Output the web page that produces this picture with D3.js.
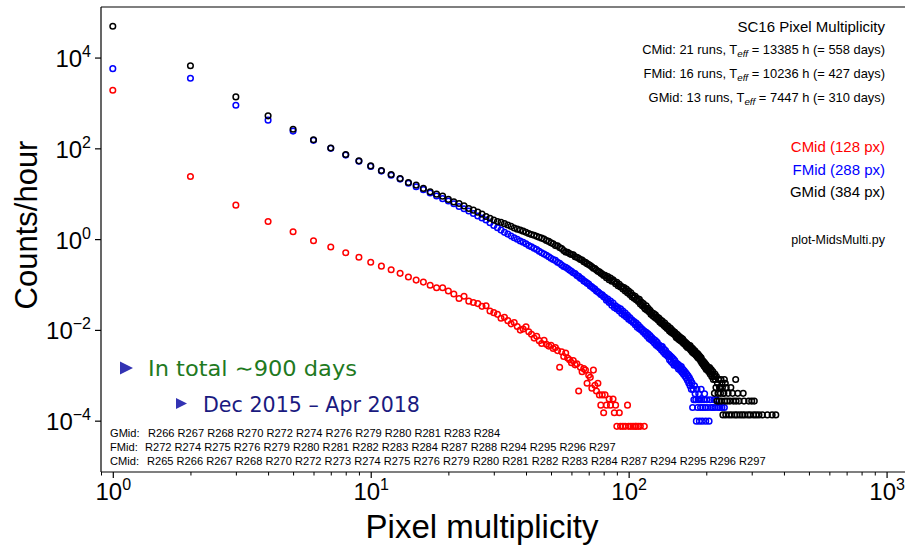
<!DOCTYPE html>
<html>
<head>
<meta charset="utf-8">
<title>SC16 Pixel Multiplicity</title>
<script src="https://d3js.org/d3.v7.min.js"></script>
<style>
    body { margin: 0; background: #fff; }
    text { font-family: "Liberation Sans", Arial, sans-serif; }
    .beamer { font-family: "DejaVu Sans", sans-serif; }
</style>
</head>
<body>
<svg id="plot" width="905" height="545"></svg>
<script>
// ---- data: counts/hour per pixel multiplicity (dense part starts at multiplicity 1) ----
const cmidRate = [1900, 24, 5.6, 2.45, 1.45, 0.92, 0.67, 0.50, 0.40, 0.31,
    0.254, 0.211, 0.176, 0.146, 0.125, 0.113, 0.096, 0.085, 0.085, 0.072,
    0.062, 0.049, 0.055, 0.043, 0.040, 0.038, 0.033, 0.034, 0.026, 0.024,
    0.022, 0.018, 0.019, 0.016, 0.0136, 0.0146, 0.0119, 0.0099, 0.0105, 0.0117,
    0.0091, 0.0080, 0.0066, 0.0072, 0.0058, 0.0050, 0.0059, 0.0048, 0.0044, 0.0046,
    0.0039, 0.0041, 0.0035, 0.0015, 0.0033, 0.0026, 0.0031, 0.0024, 0.0022, 0.0019,
    0.0021, 0.0017, 0.0018, 0.00045, 0.0015, 0.0012, 0.0014, 0.0013, 0.00067, 0.0010,
    0.00090, 0.00052, 0.0013, 0.00060, 0.00045, 0.00067, 0.00037, 0.00022, 0.00037, 0.00015,
    0.00037, 0.00022];
const cmidTailMult = [84, 85, 87, 88, 89, 90, 92, 93, 95, 97, 99, 100, 102, 104, 106, 107, 109, 111, 115];
const cmidTailRate = [0.00030, 0.00022, 0.00030, 0.00015, 0.00022, 0.000075, 0.00015, 0.000075, 0.000075, 0.000075,
    0.00022, 0.000075, 0.000075, 0.000075, 0.000075, 0.000075, 0.000075, 0.000075, 0.000075];

const fmidRate = [5700, 3500, 890, 418, 240, 150, 100, 71, 52, 40,
    31.5, 25.5, 21, 17, 14.2, 12.3, 10.4, 8.9, 7.8, 6.9,
    6.0, 5.25, 4.68, 4.17, 3.67, 3.24, 2.92, 2.63, 2.29, 2.0,
    1.78, 1.58, 1.41, 1.29, 1.17, 1.07, 0.99, 0.91, 0.85, 0.79,
    0.72, 0.68, 0.63, 0.59, 0.54, 0.50, 0.47, 0.44, 0.41, 0.38,
    0.355, 0.34, 0.31, 0.295, 0.27, 0.25, 0.24, 0.224, 0.209, 0.195,
    0.182, 0.174, 0.158, 0.151, 0.138, 0.132, 0.120, 0.115, 0.107, 0.102,
    0.093, 0.089, 0.083, 0.079, 0.072, 0.069, 0.065, 0.060, 0.059, 0.054,
    0.052, 0.045, 0.048, 0.040, 0.043, 0.035, 0.039, 0.031, 0.034, 0.029,
    0.031, 0.026, 0.029, 0.023, 0.026, 0.021, 0.0235, 0.0192, 0.021, 0.0172,
    0.0186, 0.0160, 0.0167, 0.0146, 0.0152, 0.0130, 0.0141, 0.0114, 0.0128, 0.0106,
    0.0114, 0.0098, 0.0103, 0.0089, 0.0094, 0.0080, 0.0088, 0.0072, 0.0082, 0.0065,
    0.0075, 0.0061, 0.0068, 0.0056, 0.0062, 0.0051, 0.0058, 0.0046, 0.0053, 0.0043,
    0.0047, 0.0040, 0.0044, 0.0036, 0.0043, 0.0033, 0.0038, 0.0030, 0.0035, 0.0028,
    0.0031, 0.0026, 0.0029, 0.0022, 0.0027, 0.0020, 0.0025, 0.00186, 0.0023, 0.00166,
    0.0021, 0.0017, 0.00186, 0.00156, 0.00176, 0.00137, 0.00166, 0.00147, 0.00127, 0.00156,
    0.00117, 0.00137, 0.00107, 0.00127, 0.00098, 0.00117, 0.00088, 0.00107, 0.00078, 0.00098,
    0.00068, 0.00088, 0.00059, 0.00078, 0.00049, 0.00068];
const fmidTailMult = [177, 178, 179, 180, 181, 182, 183, 184, 185, 186, 187, 188, 189, 190, 191, 192, 193, 194,
    196, 197, 198, 199, 201, 203, 205, 207, 209, 212, 214, 216, 219, 222, 226, 230, 235];
const fmidTailRate = [0.000195, 0.00049, 0.00029, 0.00059, 0.00039, 0.00029, 0.0000977, 0.00049, 0.000195, 0.00029,
    0.00039, 0.0000977, 0.00029, 0.000195, 0.00049, 0.00029, 0.0000977, 0.000195,
    0.00029, 0.00039, 0.000195, 0.0000977, 0.00029, 0.000195, 0.0000977, 0.00029, 0.000195, 0.000195, 0.00029, 0.000195,
    0.00029, 0.000195, 0.000195, 0.000195, 0.000195];

const gmidRate = [49000, 6600, 1360, 520, 263, 155, 102, 73, 53, 41,
    32.4, 26.6, 21.7, 17.7, 15.5, 13.1, 11.0, 9.8, 8.85, 7.5,
    6.6, 6.1, 5.4, 4.74, 4.35, 3.93, 3.56, 3.16, 2.88, 2.63,
    2.45, 2.34, 2.19, 2.04, 1.91, 1.76, 1.66, 1.58, 1.50, 1.41,
    1.33, 1.26, 1.22, 1.15, 1.10, 1.05, 1.00, 0.93, 0.89, 0.83,
    0.79, 0.72, 0.71, 0.65, 0.62, 0.56, 0.52, 0.51, 0.48, 0.46,
    0.45, 0.41, 0.40, 0.38, 0.355, 0.347, 0.316, 0.309, 0.288, 0.275,
    0.263, 0.245, 0.229, 0.224, 0.209, 0.195, 0.19, 0.178, 0.17, 0.158,
    0.160, 0.141, 0.150, 0.128, 0.139, 0.118, 0.127, 0.116, 0.104, 0.112,
    0.094, 0.101, 0.088, 0.090, 0.080, 0.086, 0.072, 0.079, 0.066, 0.072,
    0.060, 0.066, 0.054, 0.058, 0.050, 0.055, 0.046, 0.049, 0.042, 0.047,
    0.037, 0.041, 0.034, 0.038, 0.031, 0.029, 0.034, 0.027, 0.030, 0.025,
    0.027, 0.022, 0.024, 0.0205, 0.023, 0.019, 0.0215, 0.0178, 0.0192, 0.0165,
    0.0182, 0.0150, 0.0164, 0.0138, 0.0156, 0.0133, 0.0125, 0.0142, 0.0116, 0.0127,
    0.0108, 0.0121, 0.0102, 0.0095, 0.0110, 0.0089, 0.0100, 0.0084, 0.0093, 0.0080,
    0.0088, 0.0074, 0.0068, 0.0080, 0.0065, 0.0074, 0.0061, 0.0070, 0.0058, 0.0066,
    0.0055, 0.0063, 0.0051, 0.0057, 0.0048, 0.0053, 0.0044, 0.0050, 0.0041, 0.0047,
    0.0043, 0.0039, 0.0045, 0.0036, 0.0041, 0.0033, 0.0039, 0.0031, 0.0036, 0.0030,
    0.0034, 0.0028, 0.0031, 0.0026, 0.0030, 0.0024, 0.0028, 0.0023, 0.0026, 0.0021,
    0.00242, 0.00188, 0.00215, 0.00175, 0.00201, 0.00161, 0.00188, 0.00148, 0.00175, 0.00134,
    0.00161, 0.00134, 0.00148, 0.00121, 0.00134, 0.00148, 0.00107, 0.00121, 0.00134, 0.00094,
    0.00107, 0.00121, 0.00081, 0.00094];
const gmidTailMult = [215, 216, 217, 218, 219, 220, 221, 222, 223, 224, 225, 226, 227, 228, 229, 230, 231, 232, 233, 234,
    235, 236, 237, 238, 239, 241, 243, 245, 247, 249, 251, 253, 255, 258, 260, 261, 263, 265, 268, 270,
    276, 278, 280, 282, 290, 292, 296, 300, 305, 307, 312, 320, 330, 345, 360, 372];
const gmidTailRate = [0.00040, 0.00107, 0.00081, 0.00054, 0.00094, 0.00027, 0.00067, 0.00040, 0.00081, 0.00027,
    0.00054, 0.00054, 0.00040, 0.00081, 0.00027, 0.00067, 0.00054, 0.000134, 0.00040, 0.00040,
    0.00081, 0.00027, 0.00067, 0.000134, 0.00054, 0.00027, 0.00040, 0.000134, 0.00027, 0.00054,
    0.000134, 0.00040, 0.00027, 0.000134, 0.00081, 0.00027, 0.000134, 0.00040, 0.00027, 0.000134,
    0.000134, 0.00040, 0.00027, 0.000134, 0.000134, 0.00027, 0.000134, 0.00027, 0.000134, 0.00027,
    0.000134, 0.000134, 0.000134, 0.000134, 0.000134, 0.000134];

// ---- labels ----
const midNames = ["CMid", "FMid", "GMid"];
const midRuns = [21, 16, 13];
const midTeff = [13385, 10236, 7447];
const midDays = [558, 427, 310];
const midPixels = [128, 288, 384];
const runLists = {
    GMid: "R266 R267 R268 R270 R272 R274 R276 R279 R280 R281 R283 R284",
    FMid: "R272 R274 R275 R276 R279 R280 R281 R282 R283 R284 R287 R288 R294 R295 R296 R297",
    CMid: "R265 R266 R267 R268 R270 R272 R273 R274 R275 R276 R279 R280 R281 R282 R283 R284 R287 R294 R295 R296 R297"
};
const xTickValues = [1, 10, 100, 1000];
const yTickValues = [1e-4, 1e-2, 1, 1e2, 1e4];

const colors = { CMid: "#ff0000", FMid: "#0000ff", GMid: "#000000" };

const svg = d3.select("#plot");
const margin = { top: 7, left: 101, bottom: 472, right: 907 };

const x = d3.scaleLog().domain([0.9, 1200]).range([margin.left, margin.right]);
const y = d3.scaleLog().domain([7.4e-6, 1.3e5]).range([margin.bottom, margin.top]);

function toPoints(dense, tailMult, tailRate) {
    const pts = dense.map((v, i) => ({ m: i + 1, v: v }));
    tailMult.forEach((m, i) => pts.push({ m: m, v: tailRate[i] }));
    return pts;
}
const series = [
    { name: "CMid", pts: toPoints(cmidRate, cmidTailMult, cmidTailRate) },
    { name: "FMid", pts: toPoints(fmidRate, fmidTailMult, fmidTailRate) },
    { name: "GMid", pts: toPoints(gmidRate, gmidTailMult, gmidTailRate) }
];

// points (CMid first, GMid on top)
series.forEach(s => {
    svg.append("g").selectAll("circle").data(s.pts)
        .join("circle")
        .attr("cx", d => x(d.m))
        .attr("cy", d => y(d.v))
        .attr("r", 2.8)
        .attr("fill", "none")
        .attr("stroke", colors[s.name])
        .attr("stroke-width", 1.5);
});

// top spine
svg.append("line").attr("x1", margin.left).attr("x2", 905).attr("y1", margin.top).attr("y2", margin.top)
    .attr("stroke", "#000").attr("stroke-width", 1.2);

// x axis
const minorX = x.ticks().filter(v => !xTickValues.includes(v));
svg.append("g").attr("transform", `translate(0,${margin.bottom})`)
    .call(d3.axisBottom(x).tickValues(minorX).tickSize(3.5).tickFormat(() => "").tickSizeOuter(0))
    .call(g => g.select(".domain").remove())
    .call(g => g.selectAll("line").attr("stroke-width", 1));
const xAxis = svg.append("g").attr("transform", `translate(0,${margin.bottom})`)
    .call(d3.axisBottom(x).tickValues(xTickValues).tickSize(6).tickFormat(() => "").tickSizeOuter(0));
xAxis.select(".domain").attr("stroke-width", 1.2).attr("d", `M${margin.left},0H905`);
xAxis.selectAll("line").attr("stroke-width", 1.2);
xAxis.selectAll(".tick").append("text")
    .attr("y", 28).attr("fill", "#000").attr("font-size", 24).attr("text-anchor", "middle")
    .each(function (d) {
        const t = d3.select(this);
        t.append("tspan").text("10");
        t.append("tspan").attr("dy", -10).attr("font-size", 16).text(Math.round(Math.log10(d)));
    });

// y axis
const yAxis = svg.append("g").attr("transform", `translate(${margin.left},0)`)
    .call(d3.axisLeft(y).tickValues(yTickValues).tickSize(6).tickFormat(() => "").tickSizeOuter(0));
yAxis.select(".domain").attr("stroke-width", 1.2).attr("d", `M0,${margin.top}V${margin.bottom}`);
yAxis.selectAll("line").attr("stroke-width", 1.2);
yAxis.selectAll(".tick").append("text")
    .attr("x", -10).attr("y", 9).attr("fill", "#000").attr("font-size", 24).attr("text-anchor", "end")
    .each(function (d) {
        const t = d3.select(this);
        const e = Math.round(Math.log10(d));
        t.append("tspan").text("10");
        t.append("tspan").attr("dy", -10).attr("font-size", 16).text(e < 0 ? "\u2212" + (-e) : e);
    });

// axis titles
svg.append("text").attr("x", 482).attr("y", 538).attr("text-anchor", "middle")
    .attr("font-size", 33).text("Pixel multiplicity");
svg.append("text").attr("transform", "translate(37,225) rotate(-90)").attr("text-anchor", "middle")
    .attr("font-size", 31).text("Counts/hour");

// info block top right
const info = svg.append("g").attr("text-anchor", "end");
info.append("text").attr("x", 885).attr("y", 32).attr("font-size", 15).text("SC16 Pixel Multiplicity");
midNames.forEach((n, i) => {
    const t = info.append("text").attr("x", 885).attr("y", 54 + i * 24).attr("font-size", 12.9);
    t.append("tspan").text(`${n}: ${midRuns[i]} runs, T`);
    t.append("tspan").attr("dy", 3).attr("font-size", 9.8).attr("font-style", "italic").text("eff");
    t.append("tspan").attr("dy", -3).text(` = ${midTeff[i]} h (= ${midDays[i]} days)`);
});
midNames.forEach((n, i) => {
    info.append("text").attr("x", 885).attr("y", 152 + i * 22.5).attr("font-size", 15)
        .attr("fill", colors[n]).text(`${n} (${midPixels[i]} px)`);
});
info.append("text").attr("x", 885).attr("y", 244).attr("font-size", 12.5).text("plot-MidsMulti.py");

// run lists bottom left
const runX = { GMid: 148, FMid: 145, CMid: 147 };
["GMid", "FMid", "CMid"].forEach((n, i) => {
    svg.append("text").attr("x", 110).attr("y", 437 + i * 14).attr("font-size", 11.1).text(n + ":");
    svg.append("text").attr("x", runX[n]).attr("y", 437 + i * 14).attr("font-size", 11.1).text(runLists[n]);
});

// beamer overlay
const bullets = [
    { x: 120, y: 368, size: 13, text: "In total \u223c900 days", tx: 148, color: "#1f7a1f", len: 209 },
    { x: 176, y: 403.5, size: 11, text: "Dec 2015 \u2013 Apr 2018", tx: 203, color: "#1a1a80", len: 217 }
];
bullets.forEach(b => {
    svg.append("path")
        .attr("d", `M${b.x},${b.y - b.size / 2}L${b.x + b.size},${b.y}L${b.x},${b.y + b.size / 2}Z`)
        .attr("fill", "#3333b3");
    svg.append("text").attr("class", "beamer").attr("x", b.tx).attr("y", b.y + 8)
        .attr("font-size", 22).attr("fill", b.color)
        .attr("textLength", b.len).attr("lengthAdjust", "spacingAndGlyphs")
        .text(b.text);
});
</script>
</body>
</html>
